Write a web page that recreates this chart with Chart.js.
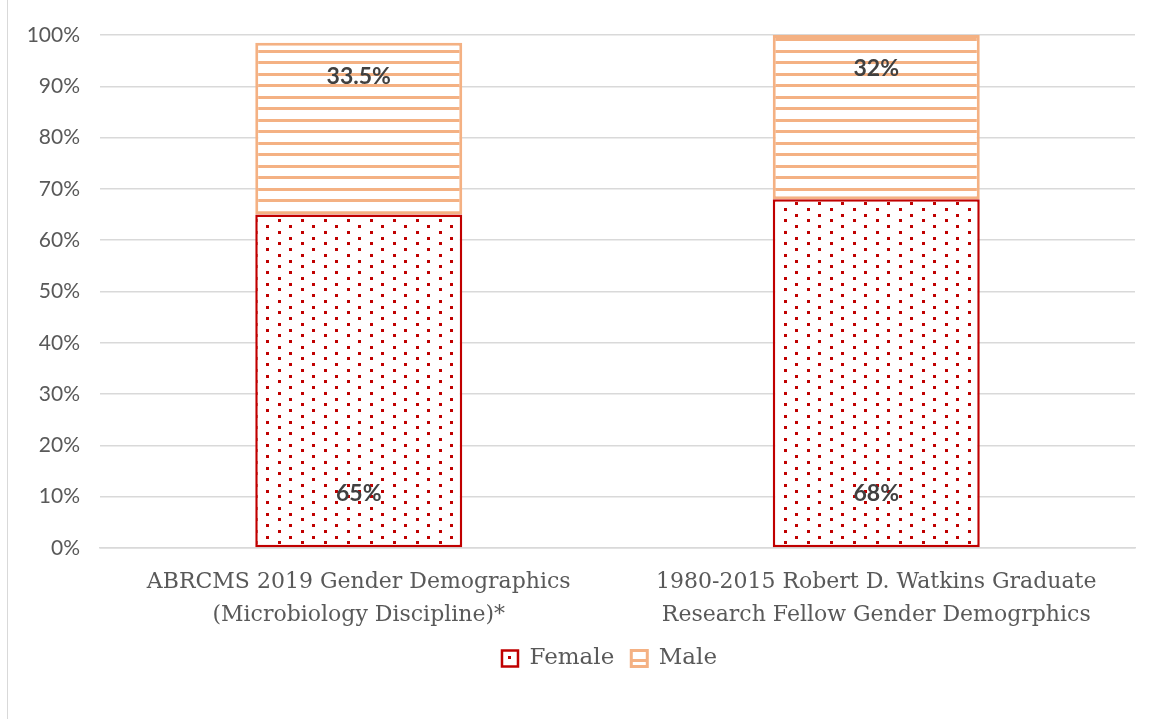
<!DOCTYPE html>
<html>
<head>
<meta charset="utf-8">
<script src="https://cdn.jsdelivr.net/npm/chart.js@4"></script>
<style>
  html, body { margin: 0; padding: 0; background: #fff; }
  #wrap { position: absolute; left: 0; top: 0; width: 1156px; height: 719px; }
  #frame { position: absolute; left: 7px; top: -2px; width: 1160px; height: 730px; border: 1.5px solid #d9d9d9; box-sizing: border-box; }
</style>
</head>
<body>
<div id="wrap">
  <div id="frame"></div>
  <canvas id="chart" width="1156" height="719"></canvas>
</div>
<script>
// chart data
const categories = [
    ["ABRCMS 2019 Gender Demographics", "(Microbiology Discipline)*"],
    ["1980-2015 Robert D. Watkins Graduate", "Research Fellow Gender Demogrphics"]
];
const femaleValues = [65, 68];
const maleValues = [33.5, 32];
const femaleLabels = ["65%", "68%"];
const maleLabels = ["33.5%", "32%"];

// fill patterns like the Excel ones
function dotPattern(color) {
    const c = document.createElement("canvas");
    c.width = 23; c.height = 23;
    const g = c.getContext("2d");
    g.fillStyle = "#fff";
    g.fillRect(0, 0, 23, 23);
    g.fillStyle = color;
    g.fillRect(2, 1, 3, 3);
    g.fillRect(13, 7, 3, 3);
    g.fillRect(2, 12, 3, 3);
    g.fillRect(13, 18, 3, 3);
    return g.createPattern(c, "repeat");
}

function stripePattern(color) {
    const c = document.createElement("canvas");
    c.width = 8; c.height = 23;
    const g = c.getContext("2d");
    g.fillStyle = "#fff";
    g.fillRect(0, 0, 8, 23);
    g.fillStyle = color;
    g.fillRect(0, 4, 8, 3);
    g.fillRect(0, 15, 8, 3);
    return g.createPattern(c, "repeat");
}

const RED = "#c00000";
const ORANGE = "#f4b183";

// values written on the bars
const barLabels = {
    id: "barLabels",
    afterDatasetsDraw(chart) {
        const ctx = chart.ctx;
        ctx.save();
        ctx.font = "bold 23px Lato";
        ctx.fillStyle = "#404040";
        ctx.textAlign = "center";
        ctx.textBaseline = "middle";
        chart.getDatasetMeta(0).data.forEach((bar, i) => {
            ctx.fillText(femaleLabels[i], bar.x, bar.base - 54);
        });
        chart.getDatasetMeta(1).data.forEach((bar, i) => {
            ctx.fillText(maleLabels[i], bar.x, bar.y + 34);
        });
        ctx.restore();
    }
};

// legend in the reference sits a bit right of the canvas centre
const legendShift = {
    id: "legendShift",
    afterLayout(chart) {
        chart.legend.left += 42;
        chart.legend.right += 42;
    }
};

const chart = new Chart(document.getElementById("chart"), {
    type: "bar",
    data: {
        labels: categories,
        datasets: [{
            label: "Female",
            data: femaleValues,
            backgroundColor: dotPattern(RED),
            borderColor: RED,
            borderWidth: 2.5,
            borderSkipped: false,
            barPercentage: 0.4,
            categoryPercentage: 1
        }, {
            label: "Male",
            data: maleValues,
            backgroundColor: stripePattern(ORANGE),
            borderColor: ORANGE,
            borderWidth: 3,
            borderSkipped: false,
            barPercentage: 0.4,
            categoryPercentage: 1
        }]
    },
    options: {
        responsive: false,
        animation: false,
        layout: { padding: { left: 0, right: 21, top: 35, bottom: 39 } },
        scales: {
            x: {
                stacked: true,
                grid: { display: false },
                border: { color: "#d9d9d9", width: 1.5 },
                ticks: {
                    color: "#595959",
                    font: { family: "DejaVu Serif", size: 22, lineHeight: 1.5 },
                    padding: 10,
                    maxRotation: 0
                },
                afterFit(scale) { scale.height = 82; }
            },
            y: {
                stacked: true,
                min: 0,
                max: 100,
                grid: { color: "#d9d9d9", lineWidth: 1.5, drawTicks: false },
                border: { display: false },
                ticks: {
                    stepSize: 10,
                    color: "#595959",
                    font: { family: "Lato", size: 21 },
                    padding: 20,
                    callback: v => v + "%"
                },
                afterFit(scale) { scale.width = 100; }
            }
        },
        plugins: {
            legend: {
                position: "bottom",
                labels: {
                    color: "#595959",
                    font: { family: "DejaVu Serif", size: 23 },
                    boxWidth: 16,
                    boxHeight: 16,
                    padding: 17
                }
            },
            tooltip: { enabled: false }
        }
    },
    plugins: [barLabels, legendShift]
});
</script>
</body>
</html>
